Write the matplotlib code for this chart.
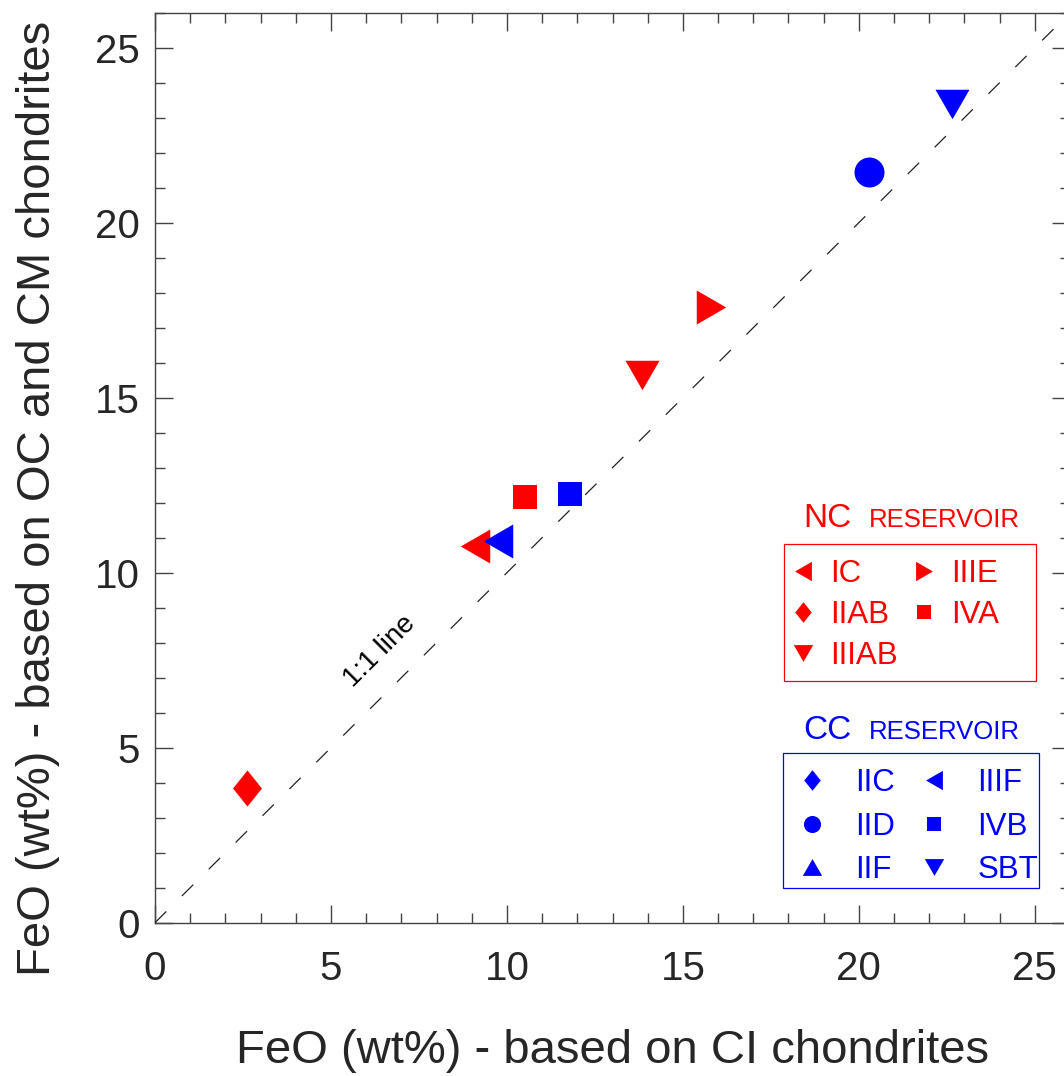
import numpy as np
import matplotlib
matplotlib.use('Agg')
import matplotlib.pyplot as plt
from matplotlib.patches import Rectangle
from matplotlib.ticker import MultipleLocator

plt.rcParams['font.family'] = ['Liberation Sans', 'DejaVu Sans']

RED = '#ff0000'
BLUE = '#0000ff'
INK = '#262626'

# --- NC reservoir iron meteorite groups ---
nc_groups = ['IC', 'IIAB', 'IIIAB', 'IIIE', 'IVA']
nc_feo_ci = [9.1, 2.6, 13.85, 15.8, 10.5]
nc_feo_ocm = [10.75, 3.85, 15.65, 17.6, 12.15]

# --- CC reservoir groups (no estimate for IIC and IIF) ---
cc_groups = ['IIC', 'IID', 'IIF', 'IIIF', 'IVB', 'SBT']
cc_feo_ci = [np.nan, 20.3, np.nan, 9.75, 11.8, 22.65]
cc_feo_ocm = [np.nan, 21.45, np.nan, 10.9, 12.25, 23.4]

one_to_one = [0, 26]

# symbol shapes: equilateral triangles and a tall diamond
TRI_L = [(-0.866, 0), (0.866, 1), (0.866, -1)]
TRI_R = [(0.866, 0), (-0.866, 1), (-0.866, -1)]
TRI_D = [(-1, 0.866), (1, 0.866), (0, -0.866)]
TRI_U = [(-1, -0.866), (1, -0.866), (0, 0.866)]
DIAM = [(0, 1), (0.8, 0), (0, -1), (-0.8, 0)]

sym = {
    'IC': (TRI_L, 24.5), 'IIAB': (DIAM, 26), 'IIIAB': (TRI_D, 24.5),
    'IIIE': (TRI_R, 24.5), 'IVA': ('s', 17.3),
    'IIC': (DIAM, 26), 'IID': ('o', 21.6), 'IIF': (TRI_U, 24.5),
    'IIIF': (TRI_L, 24.5), 'IVB': ('s', 17.3), 'SBT': (TRI_D, 24.5),
}

fig = plt.figure(figsize=(10.64, 10.76), dpi=100)
ax = fig.add_axes([155 / 1064, (1076 - 922.7) / 1076, 915 / 1064, 910 / 1076])
ax.set_xlim(0, 26)
ax.set_ylim(0, 26)


def draw(groups, xs, ys, color):
    hs = []
    for g, x, y in zip(groups, xs, ys):
        m, ms = sym[g]
        h, = ax.plot([x], [y], ls='none', marker=m, ms=ms, mfc=color,
                     mec=color, mew=0, zorder=3, label=g)
        hs.append(h)
    return hs


nc_h = draw(nc_groups, nc_feo_ci, nc_feo_ocm, RED)
cc_h = draw(cc_groups, cc_feo_ci, cc_feo_ocm, BLUE)

# 1:1 reference line
lw = 0.9
ax.plot(one_to_one, one_to_one, color='#222222', lw=lw,
        ls=(0, (11.5 / lw, 15.8 / lw)), zorder=4)
ax.text(6.4, 7.75, '1:1 line', rotation=45, ha='center', va='center',
        fontsize=20, color='black', rotation_mode='anchor')

# axes styling
for s in ax.spines.values():
    s.set_color('#444444')
    s.set_linewidth(1.0)
ax.xaxis.set_major_locator(MultipleLocator(5))
ax.yaxis.set_major_locator(MultipleLocator(5))
ax.xaxis.set_minor_locator(MultipleLocator(1))
ax.yaxis.set_minor_locator(MultipleLocator(1))
ax.tick_params(which='both', direction='in', top=True, right=True,
               color='#444444', width=1.0, labelsize=29, labelcolor=INK)
ax.tick_params(which='major', length=13)
ax.tick_params(which='minor', length=7)
ax.tick_params(axis='x', pad=20)
ax.tick_params(axis='y', pad=11)

fig.text(613 / 1064, 1 - 1063 / 1076, 'FeO (wt%) - based on CI chondrites',
         ha='center', va='baseline', fontsize=34, color=INK)
fig.text(50 / 1064, 1 - 498 / 1076,
         'FeO (wt%) - based on OC and CM chondrites', rotation=90,
         rotation_mode='anchor', ha='center', va='baseline', fontsize=34,
         color=INK)

# reservoir legends
leg_nc = ax.legend(handles=nc_h, ncol=2, loc='upper left',
                   bbox_to_anchor=(0.6945, 0.3997), frameon=False,
                   fontsize=22.5, handlelength=0.8, handletextpad=0.46,
                   columnspacing=0.46, labelspacing=0.35, borderpad=0,
                   borderaxespad=0, markerscale=0.57, labelcolor=RED)
ax.add_artist(leg_nc)
leg_cc = ax.legend(handles=cc_h, ncol=2, loc='upper left',
                   bbox_to_anchor=(0.7044, 0.1698), frameon=False,
                   fontsize=22.5, handlelength=0.8, handletextpad=0.98,
                   columnspacing=0.85, labelspacing=0.43, borderpad=0,
                   borderaxespad=0, markerscale=0.57, labelcolor=BLUE)

ax.add_patch(Rectangle((0.6874, 0.2656), 0.2754, 0.1505, transform=ax.transAxes,
                       fill=False, ec=RED, lw=0.9, clip_on=False, zorder=5))
ax.add_patch(Rectangle((0.6863, 0.0381), 0.2798, 0.1484, transform=ax.transAxes,
                       fill=False, ec=BLUE, lw=0.9, clip_on=False, zorder=5))

for name, yb, col in [('NC', 0.4348, RED), ('CC', 0.2019, BLUE)]:
    ax.text(0.735, yb, name, transform=ax.transAxes, ha='center',
            va='baseline', fontsize=24, color=col)
    ax.text(0.8628, yb, 'RESERVOIR', transform=ax.transAxes, ha='center',
            va='baseline', fontsize=18.5, color=col)

fig.savefig('out.png', dpi=100, facecolor='white')
